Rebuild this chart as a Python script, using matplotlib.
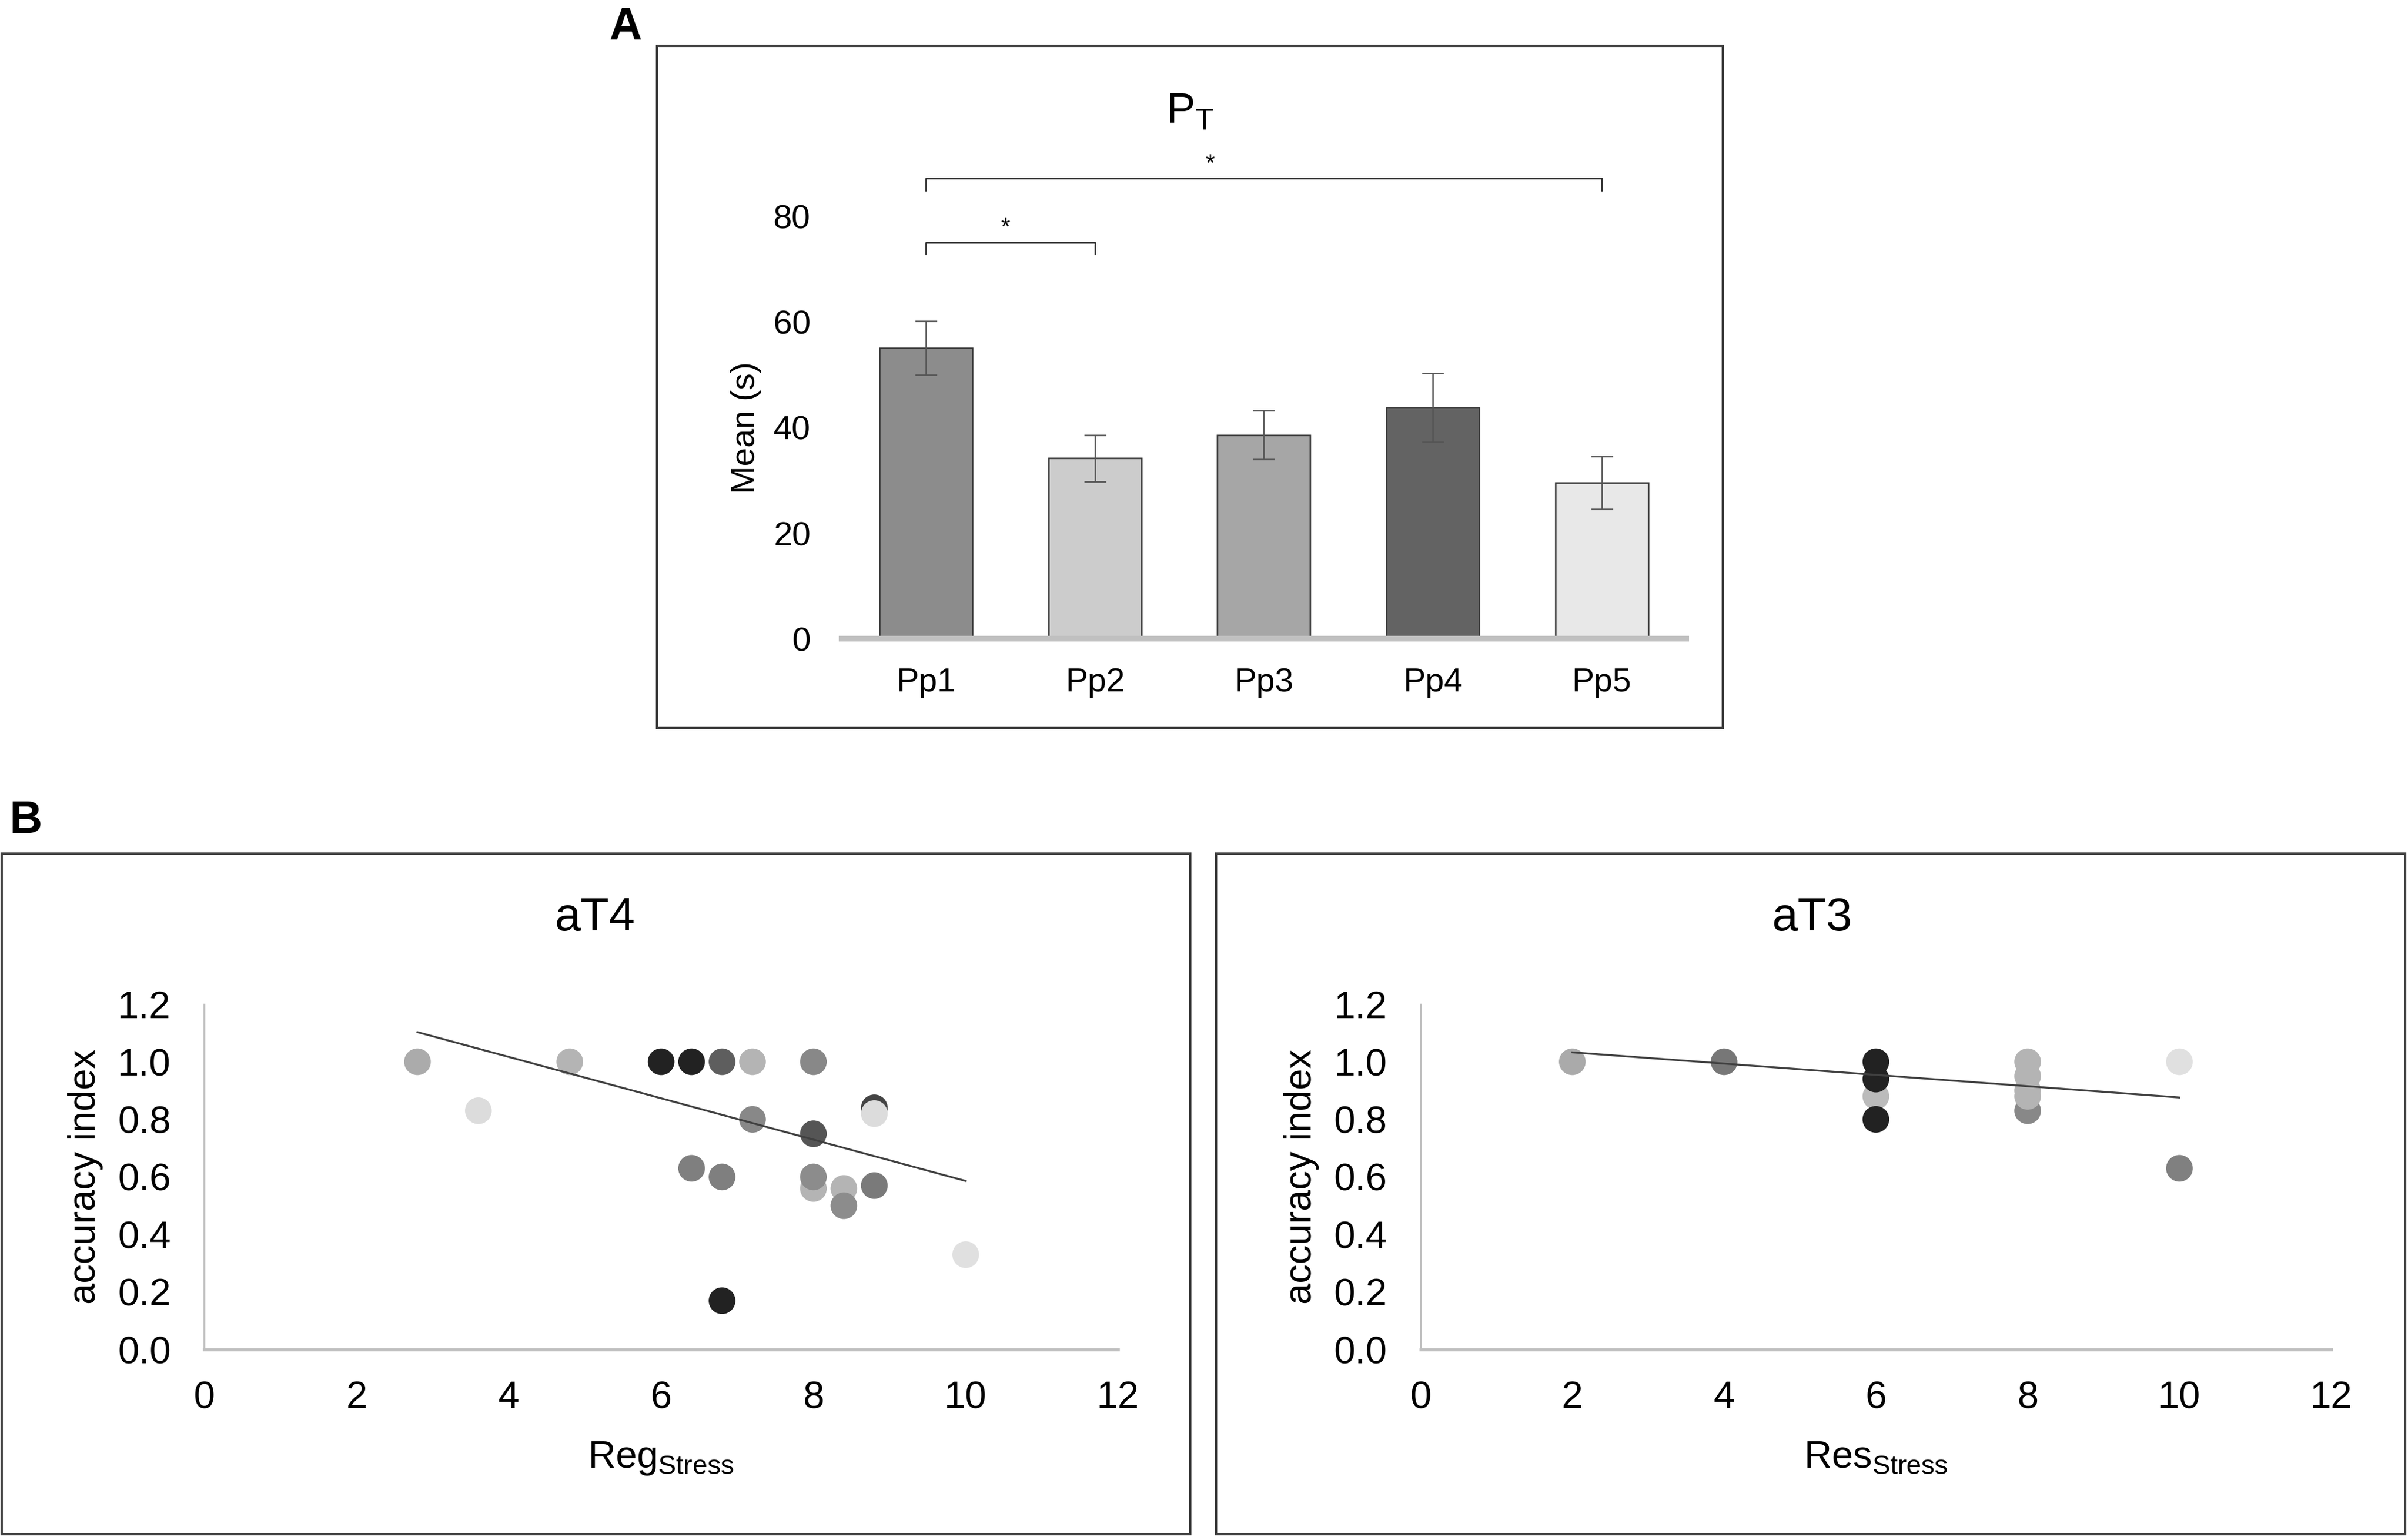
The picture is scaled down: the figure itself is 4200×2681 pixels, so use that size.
import numpy as np
import matplotlib
matplotlib.use("Agg")
import matplotlib.pyplot as plt
from matplotlib.patches import Rectangle

plt.rcParams['font.family'] = ['Liberation Sans', 'DejaVu Sans']
plt.rcParams['mathtext.fontset'] = 'custom'
plt.rcParams['mathtext.rm'] = 'Liberation Sans'

# ---- panel A data (mean time, s) ----
groups = ['Pp1', 'Pp2', 'Pp3', 'Pp4', 'Pp5']
means = [55.1, 34.2, 38.6, 43.8, 29.6]
errs = [5.1, 4.4, 4.6, 6.5, 5.0]
bar_colors = ['#8c8c8c', '#cccccc', '#a6a6a6', '#636363', '#e8e8e8']
# significance brackets: (from, to, height, star x)
sig_pairs = [(0, 1, 75.1, 0.47), (0, 4, 87.2, 1.68)]

# ---- panel B data ----
reg_stress = [2.8, 3.6, 4.8, 6.0, 6.4, 6.8, 7.2, 8.0, 7.2, 8.0, 8.8, 8.8,
              6.4, 6.8, 8.0, 8.0, 8.4, 8.4, 8.8, 10.0, 6.8]
acc_t4 = [1.0, 0.83, 1.0, 1.0, 1.0, 1.0, 1.0, 1.0, 0.8, 0.75, 0.84, 0.82,
          0.63, 0.6, 0.56, 0.6, 0.56, 0.5, 0.57, 0.33, 0.17]
col_t4 = ['#ababab', '#dcdcdc', '#b4b4b4', '#222222', '#222222', '#5e5e5e',
          '#b4b4b4', '#888888', '#888888', '#555555', '#444444', '#dcdcdc',
          '#7f7f7f', '#7f7f7f', '#b4b4b4', '#8c8c8c', '#b4b4b4', '#8c8c8c',
          '#7a7a7a', '#e0e0e0', '#222222']
trend_t4 = (-0.0718, 1.304)  # slope, intercept as drawn

res_stress = [2, 4, 6, 6, 6, 6, 8, 8, 8, 8, 8, 10, 10]
acc_t3 = [1.0, 1.0, 1.0, 0.88, 0.94, 0.8, 0.83, 1.0, 0.95, 0.9, 0.88, 1.0, 0.63]
col_t3 = ['#aaaaaa', '#777777', '#222222', '#bbbbbb', '#222222', '#222222',
          '#888888', '#b4b4b4', '#b4b4b4', '#b4b4b4', '#b4b4b4', '#e0e0e0',
          '#808080']
trend_t3 = (-0.0196, 1.072)

W, H = 1568.0, 1001.0


def fx(px):
    return px / W


def fy(py):
    return 1 - py / H


fig = plt.figure(figsize=(14, 2681 / 300), dpi=300)

# panel frames
for (x0, y0, x1, y1) in [(428, 30, 1122, 474), (1, 556, 775, 999), (792, 556, 1566, 999)]:
    fig.patches.append(Rectangle((fx(x0), fy(y1)), fx(x1) - fx(x0), fy(y0) - fy(y1),
                                 transform=fig.transFigure, fill=False,
                                 edgecolor='#404040', linewidth=1.0))

fig.text(fx(407), fy(18), 'A', fontsize=19, fontweight='bold', ha='center', va='center')
fig.text(fx(17), fy(535), 'B', fontsize=19, fontweight='bold', ha='center', va='center')

# ---- panel A ----
ax = fig.add_axes([fx(548), fy(416), fx(1098) - fx(548), (416 - 89.4) / H])
x = np.arange(len(groups))
ax.bar(x, means, width=0.55, color=bar_colors, edgecolor='#333333', linewidth=0.6)
ax.errorbar(x, means, yerr=errs, fmt='none', ecolor='#555555', elinewidth=0.6,
            capsize=4.6, capthick=0.6)
for a, b, h, sx in sig_pairs:
    ax.plot([a, a, b, b], [h - 2.2, h, h, h - 2.2], color='#333333', linewidth=0.7)
    ax.text(sx, h + 0.5, '*', ha='center', va='bottom', fontsize=10)
ax.set_xlim(-0.5, 4.5)
ax.set_ylim(0, 95)
ax.set_yticks([0, 20, 40, 60, 80])
ax.set_xticks(x)
ax.set_xticklabels(groups)
ax.tick_params(axis='both', length=0, labelsize=14)
ax.tick_params(axis='y', pad=13)
ax.tick_params(axis='x', pad=12)
for s in ['top', 'right', 'left']:
    ax.spines[s].set_visible(False)
ax.spines['bottom'].set_color('#c0c0c0')
ax.spines['bottom'].set_linewidth(2.4)
ax.set_ylabel('Mean (s)', fontsize=14, labelpad=5)
ax.yaxis.label.set_y(40 / 95)
fig.text(fx(775), fy(73), r'P$_{\mathregular{T}}$', fontsize=18, ha='center', va='center')


# ---- panel B ----
def scatter_panel(left, right, xs, ys, cols, trend, title, xlabel, box_mid):
    axs = fig.add_axes([fx(left), fy(879), fx(right) - fx(left), (879 - 654) / H])
    axs.scatter(xs, ys, s=125, c=cols, linewidths=0, zorder=3)
    xl = np.array([min(xs), max(xs)])
    axs.plot(xl, trend[0] * xl + trend[1], color='#404040', linewidth=0.8, zorder=4)
    axs.set_xlim(0, 12)
    axs.set_ylim(0, 1.2)
    axs.set_xticks(range(0, 13, 2))
    axs.set_yticks(np.arange(0, 1.21, 0.2))
    axs.set_yticklabels([f'{v:.1f}' for v in np.arange(0, 1.21, 0.2)])
    axs.tick_params(axis='both', length=0, labelsize=16)
    axs.tick_params(axis='y', pad=14)
    axs.tick_params(axis='x', pad=13)
    for s in ['top', 'right']:
        axs.spines[s].set_visible(False)
    axs.spines['left'].set_color('#c0c0c0')
    axs.spines['left'].set_linewidth(0.8)
    axs.spines['bottom'].set_color('#c0c0c0')
    axs.spines['bottom'].set_linewidth(1.3)
    axs.set_ylabel('accuracy index', fontsize=16, labelpad=6)
    axs.set_xlabel(xlabel, fontsize=16, labelpad=10)
    fig.text(fx(box_mid), fy(598), title, fontsize=19.5, ha='center', va='center')
    return axs


scatter_panel(133, 728, reg_stress, acc_t4, col_t4, trend_t4, 'aT4',
              r'Reg$_{\mathregular{Stress}}$', 387.5)
scatter_panel(925, 1518, res_stress, acc_t3, col_t3, trend_t3, 'aT3',
              r'Res$_{\mathregular{Stress}}$', 1180)

fig.savefig('out.png', dpi=300)
